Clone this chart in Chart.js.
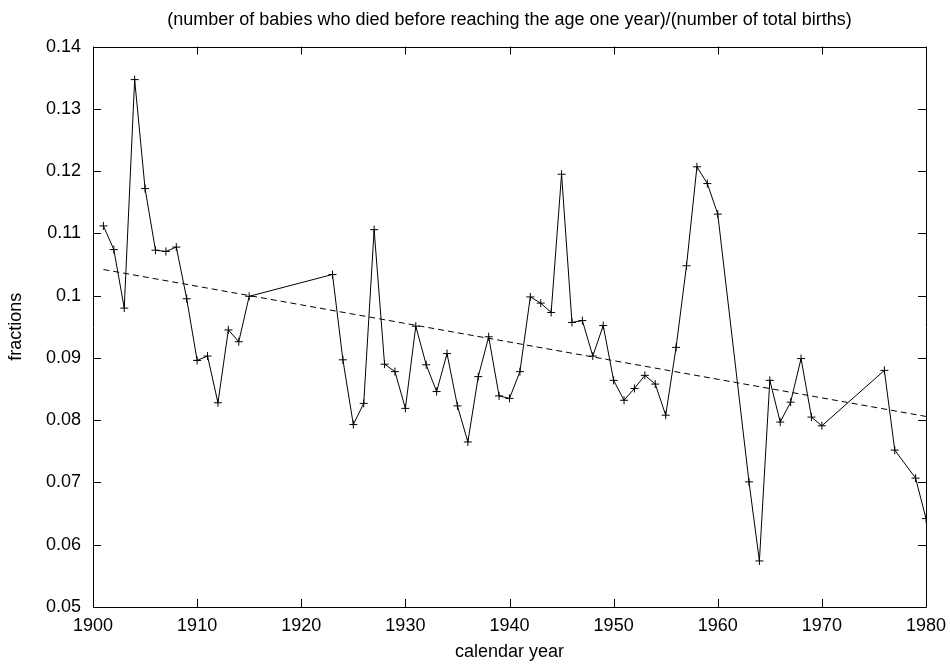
<!DOCTYPE html>
<html>
<head>
<meta charset="utf-8">
<script src="https://cdn.jsdelivr.net/npm/chart.js@4.4.1/dist/chart.umd.min.js"></script>
<style>
  body { margin: 0; background: #fff; }
  #wrap { width: 950px; height: 665px; }
</style>
</head>
<body>
<div id="wrap"><canvas id="rateChart" width="950" height="665"></canvas></div>
<script>
// infant mortality fractions
const years = [1901, 1902, 1903, 1904, 1905, 1906, 1907, 1908, 1909, 1910,
  1911, 1912, 1913, 1914, 1915, 1923, 1924, 1925, 1926, 1927,
  1928, 1929, 1930, 1931, 1932, 1933, 1934, 1935, 1936, 1937,
  1938, 1939, 1940, 1941, 1942, 1943, 1944, 1945, 1946, 1947,
  1948, 1949, 1950, 1951, 1952, 1953, 1954, 1955, 1956, 1957,
  1958, 1959, 1960, 1963, 1964, 1965, 1966, 1967, 1968, 1969,
  1970, 1976, 1977, 1979, 1980];
const fractions = [0.1112, 0.1074, 0.0980, 0.1347, 0.1172, 0.1073, 0.1071, 0.1078, 0.0995, 0.0896,
  0.0903, 0.0828, 0.0945, 0.0926, 0.0999, 0.1034, 0.0897, 0.0793, 0.0827, 0.1106,
  0.0890, 0.0878, 0.0819, 0.0951, 0.0889, 0.0846, 0.0907, 0.0823, 0.0765, 0.0870,
  0.0934, 0.0839, 0.0835, 0.0878, 0.0998, 0.0988, 0.0973, 0.1195, 0.0957, 0.0960,
  0.0903, 0.0952, 0.0864, 0.0832, 0.0851, 0.0872, 0.0858, 0.0808, 0.0917, 0.1048,
  0.1207, 0.1180, 0.1131, 0.0701, 0.0574, 0.0864, 0.0797, 0.0829, 0.0899, 0.0805,
  0.0791, 0.0880, 0.0752, 0.0707, 0.0642];

// fitted trend line (dashed), two end points
const trendYears = [1901, 1980];
const trendValues = [0.1042, 0.0806];

const xTicks = [1900, 1910, 1920, 1930, 1940, 1950, 1960, 1970, 1980];
const yTicks = [0.05, 0.06, 0.07, 0.08, 0.09, 0.10, 0.11, 0.12, 0.13, 0.14];

Chart.defaults.font.family = '"Liberation Sans", Arial, sans-serif';
Chart.defaults.font.size = 18;
Chart.defaults.color = '#000';

// gnuplot-like frame with inward ticks on all four sides
const framePlugin = {
  id: 'frame',
  afterDatasetsDraw(chart) {
    const { ctx, chartArea: a, scales } = chart;
    const len = 8;
    ctx.save();
    ctx.strokeStyle = '#000';
    ctx.lineWidth = 1;
    ctx.beginPath();
    ctx.rect(Math.round(a.left) + 0.5, Math.round(a.top) + 0.5,
      Math.round(a.right - a.left), Math.round(a.bottom - a.top));
    scales.x.ticks.forEach(t => {
      const x = Math.round(scales.x.getPixelForValue(t.value)) + 0.5;
      ctx.moveTo(x, a.bottom); ctx.lineTo(x, a.bottom - len);
      ctx.moveTo(x, a.top); ctx.lineTo(x, a.top + len);
    });
    scales.y.ticks.forEach(t => {
      const y = Math.round(scales.y.getPixelForValue(t.value)) + 0.5;
      ctx.moveTo(a.left, y); ctx.lineTo(a.left + len, y);
      ctx.moveTo(a.right, y); ctx.lineTo(a.right - len, y);
    });
    ctx.stroke();
    ctx.restore();
  }
};

const ctx = document.getElementById('rateChart').getContext('2d');
new Chart(ctx, {
  type: 'line',
  data: {
    datasets: [{
      data: years.map((yr, i) => ({ x: yr, y: fractions[i] })),
      borderColor: '#000',
      borderWidth: 1,
      pointStyle: 'cross',
      pointRadius: 4,
      pointBorderColor: '#000',
      pointBorderWidth: 1,
      tension: 0
    }, {
      data: trendYears.map((yr, i) => ({ x: yr, y: trendValues[i] })),
      borderColor: '#000',
      borderWidth: 1,
      borderDash: [6, 4],
      pointRadius: 0
    }]
  },
  plugins: [framePlugin],
  options: {
    responsive: false,
    animation: false,
    devicePixelRatio: 1,
    layout: { padding: { left: 0, right: 24, top: 0, bottom: 0 } },
    plugins: {
      legend: { display: false },
      tooltip: { enabled: false },
      title: {
        display: true,
        fullSize: false,
        text: '(number of babies who died before reaching the age one year)/(number of total births)',
        font: { size: 18, weight: 'normal' },
        padding: { top: 9, bottom: 16 }
      }
    },
    scales: {
      x: {
        type: 'linear',
        min: 1900,
        max: 1980,
        afterBuildTicks: s => { s.ticks = xTicks.map(v => ({ value: v })); },
        afterFit: s => { s.height = 58; s.paddingLeft = 0; s.paddingRight = 0; },
        grid: { display: false, drawTicks: false },
        border: { display: false },
        ticks: { padding: 8, maxRotation: 0, callback: v => String(v) },
        title: { display: true, text: 'calendar year', padding: { top: 4, bottom: 2 } }
      },
      y: {
        min: 0.05,
        max: 0.14,
        afterBuildTicks: s => { s.ticks = yTicks.map(v => ({ value: v })); },
        afterFit: s => { s.width = 93; s.paddingTop = 0; s.paddingBottom = 0; },
        grid: { display: false, drawTicks: false },
        border: { display: false },
        ticks: { padding: 12, callback: v => String(+v.toFixed(2)) },
        title: { display: true, text: 'fractions', padding: { top: 5, bottom: 0 } }
      }
    }
  }
});
</script>
</body>
</html>
